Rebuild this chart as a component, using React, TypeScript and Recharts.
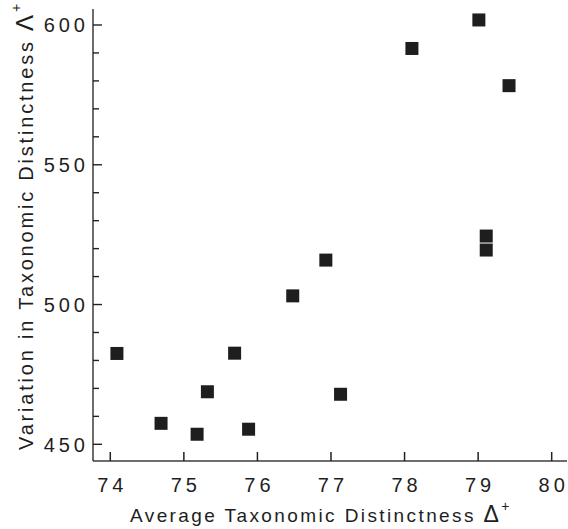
import { ScatterChart, Scatter, XAxis, YAxis } from 'recharts';

// Average taxonomic distinctness (Δ+) vs variation in taxonomic distinctness (Λ+)
const avgDistinctness = [74.09, 74.69, 75.18, 75.32, 75.69, 75.88, 76.48, 76.93, 77.13, 78.1, 79.01, 79.42, 79.11, 79.11];
const varDistinctness = [482.5, 457.5, 453.6, 468.8, 482.6, 455.4, 503.1, 515.9, 467.9, 591.6, 601.8, 578.3, 524.5, 519.5];

const xTicks = [74, 75, 76, 77, 78, 79, 80];
const yTicks = [450, 460, 470, 480, 490, 500, 510, 520, 530, 540, 550, 560, 570, 580, 590, 600];

const points = avgDistinctness.map((x, i) => ({ x, y: varDistinctness[i] }));

const INK = '#1e1e1e';
const AXIS = '#3c3c3c';
const FONT = '"Liberation Sans", Arial, sans-serif';

const Square = (props: any) => {
    const { cx, cy } = props;
    return <rect x={cx - 6.5} y={cy - 6.5} width={13} height={13} fill={INK} />;
};

// ticks point inward, so they are drawn by hand next to the label
const XTick = (props: any) => {
    const { x, y, payload } = props;
    return (
        <g>
            <path d={`M${x},${y}V${y - 9}`} stroke="#222" strokeWidth={1.5} fill="none" />
            <text x={x + 2} y={y + 30.5} textAnchor="middle" fontSize={20} fill={INK} fontFamily={FONT} letterSpacing={4}>
                {payload.value}
            </text>
        </g>
    );
};

const YTick = (props: any) => {
    const { x, y, payload } = props;
    const major = payload.value % 50 === 0;
    return (
        <g>
            <path d={`M${x},${y}H${x + (major ? 9 : 6)}`} stroke="#222" strokeWidth={1.4} fill="none" />
            {major && (
                <text x={x - 4} y={y + 7.3} textAnchor="end" fontSize={20} fill={INK} fontFamily={FONT} letterSpacing={4}>
                    {payload.value}
                </text>
            )}
        </g>
    );
};

const XTitle = (props: any) => {
    const { viewBox } = props;
    return (
        <text x={130} y={viewBox.y + 60.7} fontSize={19} fill={INK} fontFamily={FONT} letterSpacing={2.4}>
            Average Taxonomic Distinctness  <tspan fontSize={23}>Δ</tspan><tspan fontSize={14} dy={-11}>+</tspan>
        </text>
    );
};

const YTitle = () => (
    <text transform="translate(33, 450) rotate(-90)" fontSize={20} fill={INK} fontFamily={FONT} letterSpacing={2.8}>
        Variation in Taxonomic Distinctness <tspan fontSize={24}>Λ</tspan><tspan fontSize={14} dy={-12}>+</tspan>
    </text>
);

export default function App() {
    return (
        <div style={{ position: 'absolute', left: 0, top: 0, background: '#fff' }}>
            <ScatterChart width={568} height={529} margin={{ top: 9, right: 1, bottom: 0, left: 0 }}>
                <XAxis
                    type="number"
                    dataKey="x"
                    domain={[73.765, 80.208]}
                    ticks={xTicks}
                    allowDataOverflow
                    height={68}
                    stroke={AXIS}
                    strokeWidth={1.5}
                    tickLine={false}
                    tickSize={0}
                    tickMargin={0}
                    tick={(p: any) => <XTick {...p} />}
                    label={<XTitle />}
                />
                <YAxis
                    type="number"
                    dataKey="y"
                    domain={[444.03, 605.72]}
                    ticks={yTicks}
                    allowDataOverflow
                    interval={0}
                    width={93}
                    stroke={AXIS}
                    strokeWidth={1.5}
                    tickLine={false}
                    tickSize={0}
                    tickMargin={0}
                    tick={(p: any) => <YTick {...p} />}
                    label={<YTitle />}
                />
                <Scatter data={points} shape={<Square />} isAnimationActive={false} />
            </ScatterChart>
        </div>
    );
}
